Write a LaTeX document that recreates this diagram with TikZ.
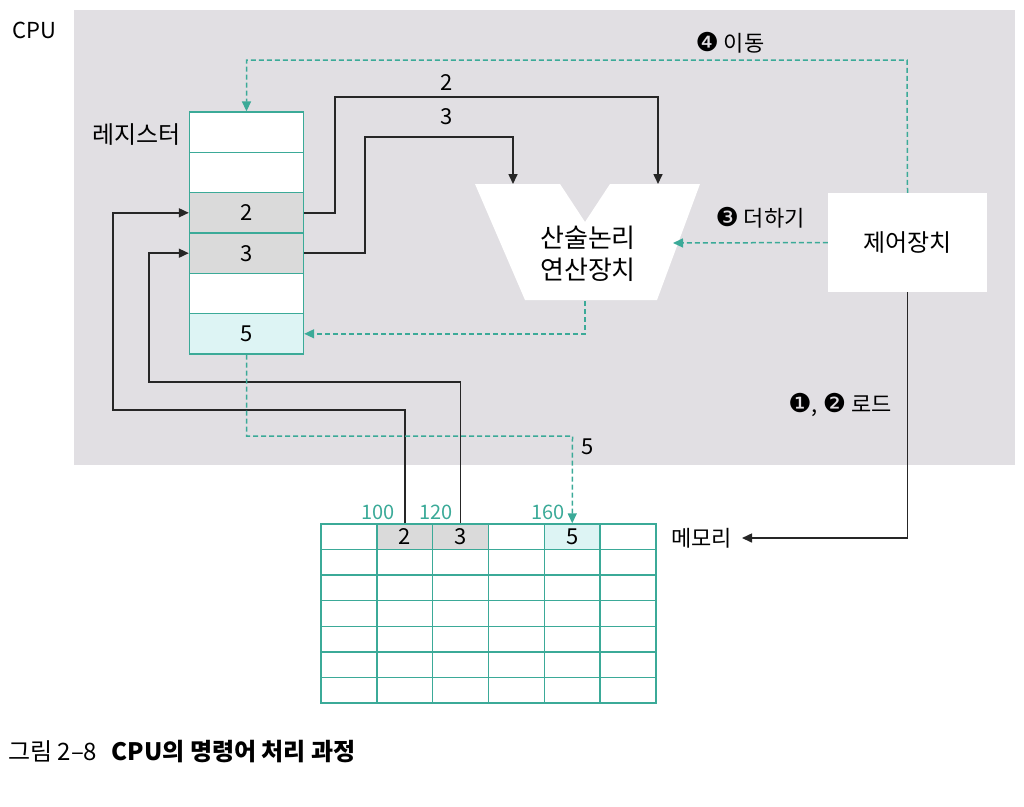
\documentclass[tikz,border=0pt]{standalone}
\usepackage{fontspec}
\setmainfont{Noto Sans CJK KR}
\newfontfamily\dv{DejaVu Sans}
\usetikzlibrary{arrows.meta}
\definecolor{teal1}{HTML}{3BAA98}
\definecolor{bgc}{HTML}{E1DFE3}
\definecolor{cellgray}{HTML}{DADADA}
\definecolor{cellcyan}{HTML}{DDF4F4}
\newcommand{\circd}[1]{{\dv\fontsize{26}{26}\selectfont #1}}
\begin{document}
\begin{tikzpicture}[x=1pt,y=-1pt,
  tipa/.style={-{Triangle[length=10pt,width=9pt]}},
  blk/.style={draw=black!85, line width=1.6pt, tipa},
  dsh/.style={draw=teal1, line width=1.5pt, dash pattern=on 5pt off 3pt, tipa},
  reg/.style={draw=teal1, line width=1.4pt, minimum width=114pt, minimum height=40.33pt, inner sep=0pt, fill=white, font=\fontsize{22}{24}\selectfont},
  mem/.style={draw=teal1, line width=1.4pt, minimum width=55.83pt, minimum height=25.57pt, inner sep=0pt, fill=white, font=\fontsize{22}{24}\selectfont},
  lbl/.style={font=\fontsize{22}{24}\selectfont, inner sep=0pt},
  addr/.style={font=\fontsize{20}{22}\selectfont, inner sep=0pt, text=teal1}
]
\useasboundingbox (0,0) rectangle (1024,806);
\fill[bgc] (74,10) rectangle (1015,465);

% labels
\node[lbl, anchor=west] (cpu) at (12,30) {CPU};
\node[lbl, anchor=east, font=\fontsize{24}{26}\selectfont] (reglbl) at (181,135) {레지스터};

% registers
\node[reg] (r1) at (246.5,132.2) {};
\node[reg] (r2) at (246.5,172.5) {};
\node[reg, fill=cellgray] (r3) at (246.5,212.8) {2};
\node[reg, fill=cellgray] (r4) at (246.5,253.2) {3};
\node[reg] (r5) at (246.5,293.5) {};
\node[reg, fill=cellcyan] (r6) at (246.5,333.8) {5};

% ALU
\fill[white] (475,184) -- (560,184) -- (585,222) -- (610,184) -- (700,184) -- (657,300) -- (525,300) -- cycle;
\coordinate (aluL) at (513,184);
\coordinate (aluR) at (658,184);
\coordinate (aluE) at (673,243);
\coordinate (aluS) at (585,301);
\node[font=\fontsize{26}{32}\selectfont, align=center, inner sep=0pt] (alu) at (588,254) {산술논리\\연산장치};

% control unit
\node[fill=white, minimum width=159pt, minimum height=99pt, inner sep=0pt, font=\fontsize{24}{26}\selectfont] (cu) at (907.5,242.5) {제어장치};

% memory
\foreach \r in {2,...,7}
  \foreach \c in {1,...,6}
    \node[mem] (m-\r-\c) at ({321+(\c-0.5)*55.83},{524+(\r-0.5)*25.57}) {};
\node[mem] (m-1-1) at ({321+0.5*55.83},{524+0.5*25.57}) {};
\node[mem, fill=cellgray] (m-1-2) at ({321+1.5*55.83},{524+0.5*25.57}) {2};
\node[mem, fill=cellgray] (m-1-3) at ({321+2.5*55.83},{524+0.5*25.57}) {3};
\node[mem] (m-1-4) at ({321+3.5*55.83},{524+0.5*25.57}) {};
\node[mem, fill=cellcyan] (m-1-5) at ({321+4.5*55.83},{524+0.5*25.57}) {5};
\node[mem] (m-1-6) at ({321+5.5*55.83},{524+0.5*25.57}) {};

\node[addr] (a100) at (378,512) {100};
\node[addr] (a120) at (436,512) {120};
\node[addr] (a160) at (548,512) {160};
\node[lbl, anchor=east] (mlbl) at (732,538) {메모리};

% data lines to ALU
\draw[blk] (r3.east) -| (335,97) -| (aluR);
\draw[blk] (r4.east) -| (365,137) -| (aluL);
\node[lbl] (l2) at (447,83) {2};
\node[lbl] (l3) at (447,117) {3};

% memory to registers
\draw[blk] (m-1-2.north) |- (113,410) |- (r3.west);
\draw[blk] (m-1-3.north) |- (149,382) |- (r4.west);

% control signals
\coordinate (c4) at (907,60);
\draw[dsh] (cu.north) -- (c4) -| (r1.north);
\node[lbl] (t4) at (730,43) {\circd{❹} 이동};

\draw[dsh] (cu.west) -- (aluE);
\node[lbl] (t3) at (760,218) {\circd{❸} 더하기};

\draw[dsh] (aluS) |- (r6.east);

\coordinate (c5) at (572.5,436);
\draw[dsh] (r6.south) |- (c5) -- (m-1-5.north);
\node[lbl] (t5) at (588,447) {5};

\draw[blk, shorten >=10pt] (cu.south) |- (mlbl.east);
\node[lbl] (t12) at (840,405) {\circd{❶}, \circd{❷} 로드};

% caption
\node[anchor=west, inner sep=0pt, font=\fontsize{24}{26}\selectfont] (cap) at (8,752) {그림 2–8\hspace{0.6em}\textbf{CPU의 명령어 처리 과정}};
\end{tikzpicture}
\end{document}
